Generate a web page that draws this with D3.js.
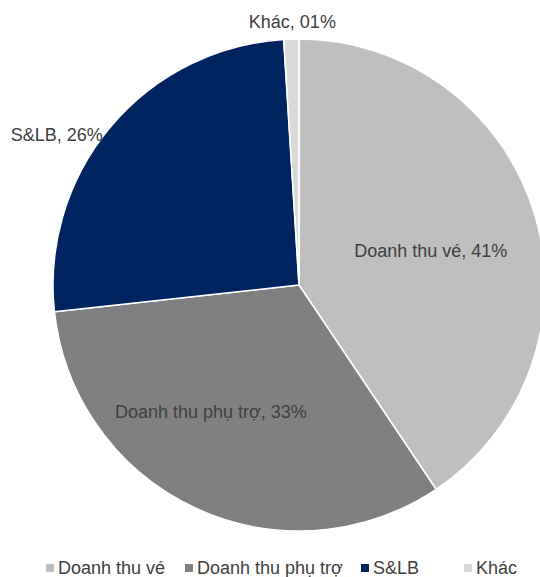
<!DOCTYPE html>
<html>
<head>
<meta charset="utf-8">
<script src="https://cdn.jsdelivr.net/npm/d3@7"></script>
<style>
  html, body { margin: 0; padding: 0; background: #fff; }
  svg { display: block; }
  text { font-family: "Liberation Sans", Arial, sans-serif; fill: #404040; }
</style>
</head>
<body>
<svg id="chart" width="540" height="577"></svg>
<script>
// Revenue structure (%)
const categories = ["Doanh thu vé", "Doanh thu phụ trợ", "S&LB", "Khác"];
const values = [41, 33, 26, 1];
const valueLabels = ["41%", "33%", "26%", "01%"];
const colors = ["#bfbfbf", "#808083", "#00245f", "#d9d9d9"];

const width = 540, height = 577;
const cx = 299, cy = 285, R = 246;
const fontSize = 18;

const svg = d3.select("#chart");
const g = svg.append("g").attr("transform", `translate(${cx},${cy})`);

const pie = d3.pie().sort(null).value(d => d.value);
const arc = d3.arc().innerRadius(0).outerRadius(R);
const data = categories.map((c, i) => ({ name: c, value: values[i], label: valueLabels[i], color: colors[i] }));
const arcs = pie(data);

g.selectAll("path.slice")
  .data(arcs)
  .join("path")
  .attr("class", "slice")
  .attr("d", arc)
  .attr("fill", d => d.data.color)
  .attr("stroke", "#fff")
  .attr("stroke-width", 1.5)
  .attr("stroke-linejoin", "round");

// Label placement: inside labels sit near the centroid of a smaller arc,
// outside labels hug the rim at the slice's mid angle.
const labelLayout = [
  { mode: "inside", r: 0.56, dx: 0, dy: 12 },
  { mode: "inside", r: 0.56, dx: -30, dy: 8 },
  { mode: "rim", anchor: "end", dx: -8, dy: 14 },
  { mode: "rim", anchor: "middle", dx: 1, dy: -11 }
];

g.selectAll("text.lbl")
  .data(arcs)
  .join("text")
  .attr("class", "lbl")
  .style("font-size", fontSize + "px")
  .attr("text-anchor", (d, i) => labelLayout[i].anchor || "middle")
  .attr("x", (d, i) => {
    const L = labelLayout[i];
    const a = (d.startAngle + d.endAngle) / 2;
    const rr = L.mode === "inside" ? R * L.r : R;
    return Math.sin(a) * rr + L.dx;
  })
  .attr("y", (d, i) => {
    const L = labelLayout[i];
    const a = (d.startAngle + d.endAngle) / 2;
    const rr = L.mode === "inside" ? R * L.r : R;
    return -Math.cos(a) * rr + L.dy;
  })
  .text(d => `${d.data.name}, ${d.data.label}`);

// Legend along the bottom
const legendX = [46, 185, 361, 464];
const legendY = 574;
const legend = svg.append("g").attr("class", "legend");
const items = legend.selectAll("g.item")
  .data(data)
  .join("g")
  .attr("class", "item")
  .attr("transform", (d, i) => `translate(${legendX[i]},${legendY})`);
items.append("rect")
  .attr("x", 0).attr("y", -10)
  .attr("width", 8).attr("height", 8)
  .attr("fill", d => d.color);
items.append("text")
  .attr("x", 12).attr("y", 0)
  .style("font-size", fontSize + "px")
  .text(d => d.name);
</script>
</body>
</html>
